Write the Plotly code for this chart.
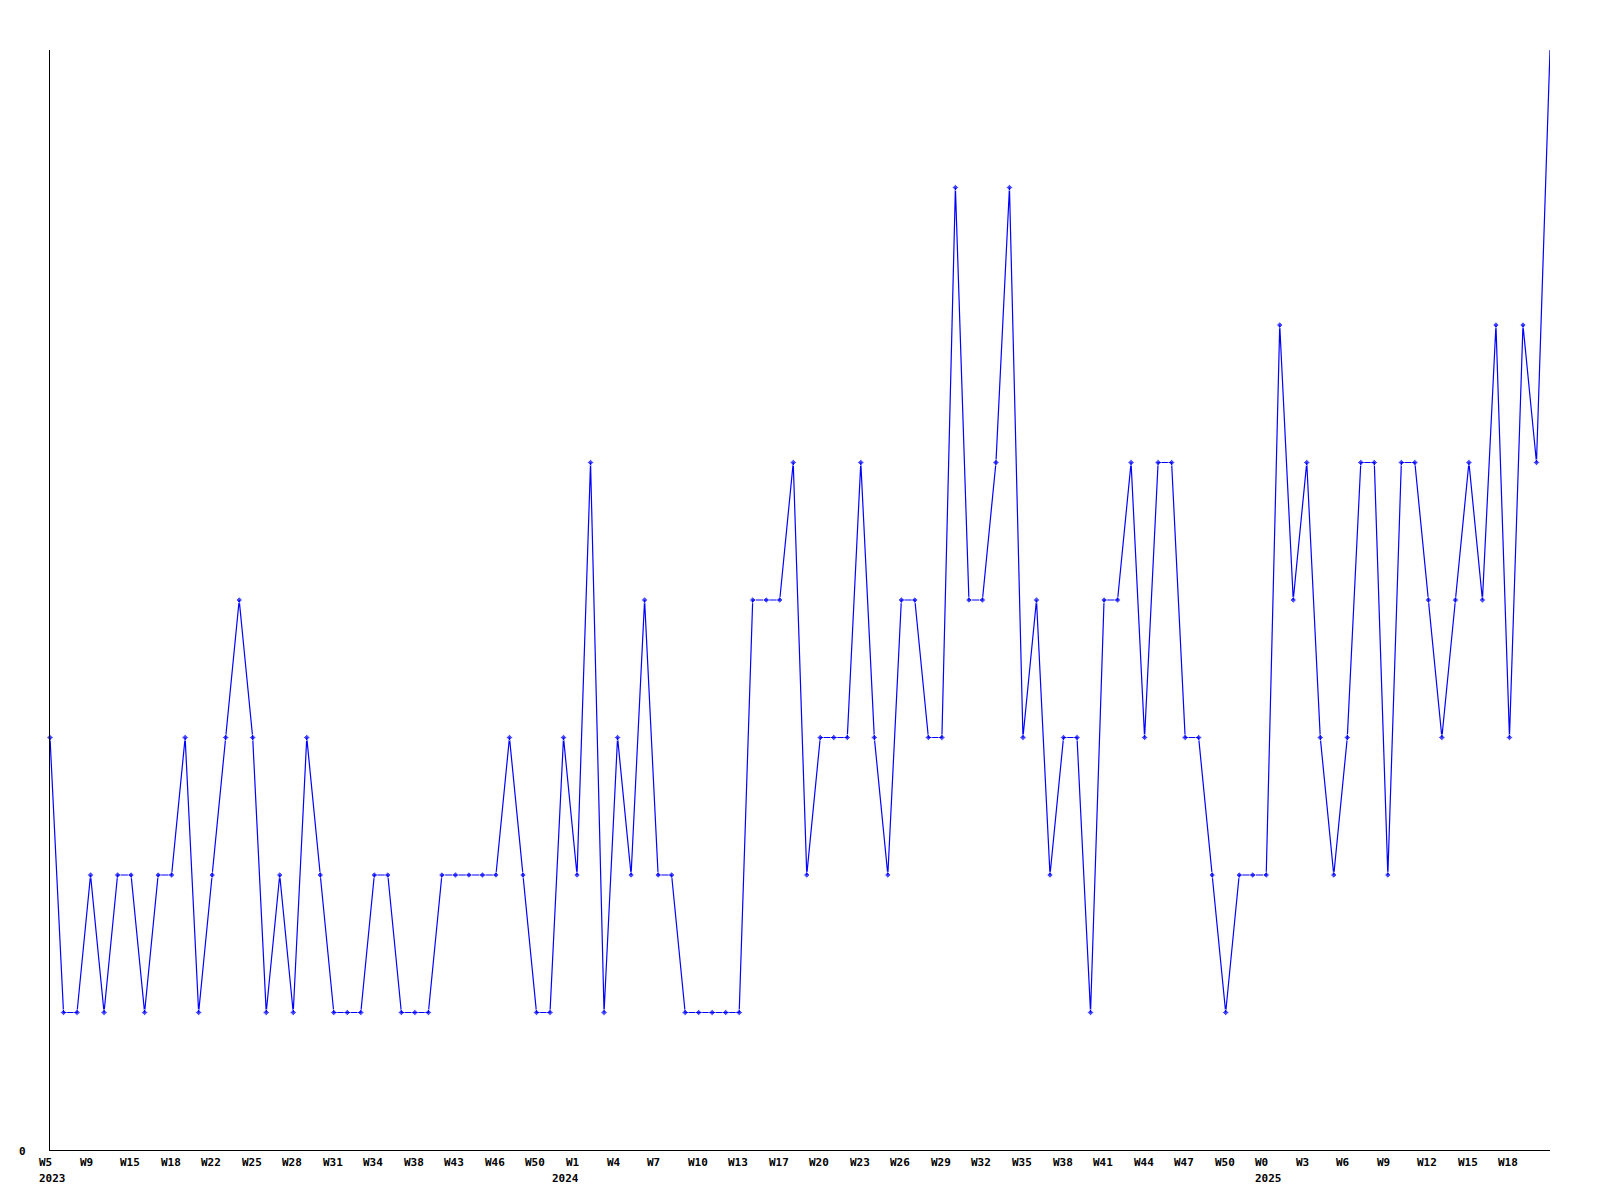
import plotly.graph_objects as go

# weekly counts (112 consecutive points)
values = [
    3, 1, 1, 2, 1, 2, 2, 1, 2, 2, 3, 1, 2, 3, 4, 3, 1, 2, 1, 3,
    2, 1, 1, 1, 2, 2, 1, 1, 1, 2, 2, 2, 2, 2, 3, 2, 1, 1,
    3, 2, 5, 1, 3, 2, 4, 2, 2, 1, 1, 1, 1, 1, 4, 4, 4, 5, 2, 3,
    3, 3, 5, 3, 2, 4, 4, 3, 3, 7, 4, 4, 5, 7, 3, 4, 2, 3, 3, 1,
    4, 4, 5, 3, 5, 5, 3, 3, 2, 1, 2, 2, 2, 6, 4, 5, 3, 2, 3, 5,
    5, 2, 5, 5, 4, 3, 4, 5, 4, 6, 3, 6, 5, 8,
]

# x tick labels, one every 3 points
tick_step = 3
tick_labels = [
    "W5", "W9", "W15", "W18", "W22", "W25", "W28", "W31", "W34", "W38",
    "W43", "W46", "W50", "W1", "W4", "W7", "W10", "W13", "W17", "W20",
    "W23", "W26", "W29", "W32", "W35", "W38", "W41", "W44", "W47", "W50",
    "W0", "W3", "W6", "W9", "W12", "W15", "W18",
]
# year labels: (tick label index, text)
year_labels = [(0, "2023"), (13, "2024"), (30, "2025")]

x = list(range(len(values)))
ymax = max(values)
# the reference draws no marker on the point sitting on the top edge
marker_sizes = [0 if v >= ymax else 5 for v in values]

fig = go.Figure()
fig.add_trace(go.Scatter(
    x=x, y=values, mode="lines+markers",
    line=dict(color="#0000ff", width=1.2),
    marker=dict(symbol="diamond", size=marker_sizes, color="#0000ff"),
    cliponaxis=False, hoverinfo="skip",
))

font = dict(family="DejaVu Sans Mono", size=11, color="black")
annotations = []
for i, lbl in enumerate(tick_labels):
    annotations.append(dict(
        x=i * tick_step, xref="x", y=0, yref="paper",
        text="<b>%s</b>" % lbl, showarrow=False,
        xanchor="left", yanchor="top", xshift=-13, yshift=-4,
        font=font,
    ))
for ti, yr in year_labels:
    shift = -27 if yr == "2024" else -13
    annotations.append(dict(
        x=ti * tick_step, xref="x", y=0, yref="paper",
        text="<b>%s</b>" % yr, showarrow=False,
        xanchor="left", yanchor="top", xshift=shift, yshift=-20,
        font=font,
    ))
annotations.append(dict(
    x=0, xref="paper", y=0, yref="y", text="<b>0</b>", showarrow=False,
    xanchor="right", yanchor="middle", xshift=-22, yshift=-1, font=font,
))

fig.update_layout(
    width=1600, height=1200,
    margin=dict(l=50, r=50, t=50, b=50),
    paper_bgcolor="white", plot_bgcolor="white",
    showlegend=False,
    annotations=annotations,
    xaxis=dict(range=[0, len(values) - 1], showgrid=False, zeroline=False,
               showline=True, linecolor="black", linewidth=1,
               showticklabels=False, ticks=""),
    yaxis=dict(range=[0, ymax], showgrid=False, zeroline=False,
               showline=True, linecolor="black", linewidth=1,
               showticklabels=False, ticks=""),
)

fig.write_html("out.html",
               config={"displayModeBar": False},
               post_script="document.body.style.margin='0';document.body.style.padding='0';")
